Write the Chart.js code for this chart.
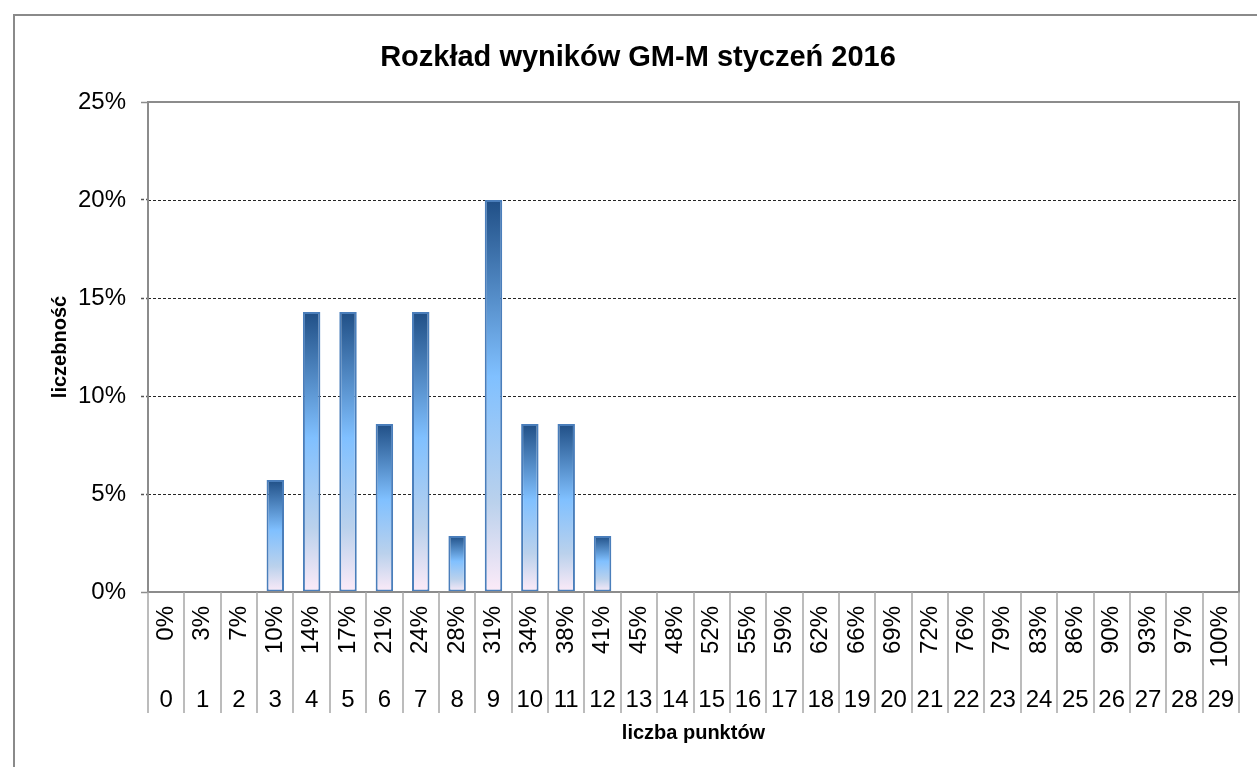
<!DOCTYPE html>
<html lang="pl">
<head>
<meta charset="utf-8">
<title>Rozkład wyników GM-M styczeń 2016</title>
<script src="https://cdn.jsdelivr.net/npm/chart.js@4.4.1/dist/chart.umd.min.js"></script>
<style>
    html, body { margin: 0; padding: 0; background: #ffffff; overflow: hidden; }
    canvas { display: block; }
</style>
</head>
<body>
<canvas id="wykres" width="1257" height="767"></canvas>
<script>
// Dane wykresu
const punkty = ['0', '1', '2', '3', '4', '5', '6', '7', '8', '9', '10', '11', '12', '13', '14',
    '15', '16', '17', '18', '19', '20', '21', '22', '23', '24', '25', '26', '27', '28', '29'];
const procentWyniku = ['0%', '3%', '7%', '10%', '14%', '17%', '21%', '24%', '28%', '31%', '34%', '38%',
    '41%', '45%', '48%', '52%', '55%', '59%', '62%', '66%', '69%', '72%', '76%', '79%', '83%', '86%',
    '90%', '93%', '97%', '100%'];
// liczebność w procentach
const liczebnosc = [0, 0, 0, 5.71, 14.29, 14.29, 8.57, 14.29, 2.86, 20, 8.57, 8.57, 2.86, 0, 0,
    0, 0, 0, 0, 0, 0, 0, 0, 0, 0, 0, 0, 0, 0, 0];
const osYTicki = [0, 5, 10, 15, 20, 25];

const czcionka = '"Liberation Sans", Arial, sans-serif';

document.addEventListener('DOMContentLoaded', function () {
    // gradient slupka: ciemny u gory, jasny w srodku, prawie bialy na dole
    function gradientSlupka(context) {
        const chart = context.chart;
        if (!chart.chartArea) return '#80bfff';
        const y = chart.scales.y;
        const gora = y.getPixelForValue(context.raw || 0);
        const dol = y.getPixelForValue(0);
        if (dol - gora < 1) return '#80bfff';
        const g = chart.ctx.createLinearGradient(0, gora, 0, dol);
        g.addColorStop(0, '#204f86');
        g.addColorStop(0.45, '#80c0ff');
        g.addColorStop(0.77, '#bad1ec');
        g.addColorStop(1, '#fdebf8');
        return g;
    }

    // ramka wykresu, linie siatki, ramka obszaru kreślenia i pionowe kreski pod osią
    const ramki = {
        id: 'ramki',
        beforeDraw(chart) {
            const ctx = chart.ctx;
            ctx.save();
            ctx.fillStyle = '#ffffff';
            ctx.fillRect(0, 0, chart.width, chart.height);
            ctx.strokeStyle = '#8a8a8a';
            ctx.lineWidth = 2;
            ctx.strokeRect(14, 15, chart.width + 40, chart.height + 40);
            ctx.restore();
        },
        beforeDatasetsDraw(chart) {
            const ctx = chart.ctx;
            const a = chart.chartArea;
            const y = chart.scales.y;
            ctx.save();
            ctx.strokeStyle = '#262626';
            ctx.lineWidth = 1;
            ctx.setLineDash([3, 2]);
            osYTicki.forEach(function (v) {
                if (v === 0 || v === 25) return;
                const py = Math.round(y.getPixelForValue(v)) + 0.5;
                ctx.beginPath();
                ctx.moveTo(a.left, py);
                ctx.lineTo(a.right, py);
                ctx.stroke();
            });
            ctx.restore();
        },
        afterDraw(chart) {
            const ctx = chart.ctx;
            const a = chart.chartArea;
            const x = chart.scales.x;
            ctx.save();
            ctx.strokeStyle = '#8c8c8c';
            ctx.lineWidth = 2;
            ctx.strokeRect(a.left, a.top, a.right - a.left, a.bottom - a.top);

            const pol = (x.getPixelForValue(1) - x.getPixelForValue(0)) / 2;
            ctx.strokeStyle = '#a6a6a6';
            ctx.lineWidth = 1.5;
            for (let i = 0; i <= punkty.length; i++) {
                const px = i < punkty.length ? x.getPixelForValue(i) - pol : x.getPixelForValue(i - 1) + pol;
                ctx.beginPath();
                ctx.moveTo(Math.round(px), a.bottom);
                ctx.lineTo(Math.round(px), a.bottom + 121);
                ctx.stroke();
            }
            ctx.restore();
        }
    };

    const data = {
        labels: procentWyniku,
        datasets: [{
            data: liczebnosc,
            backgroundColor: gradientSlupka,
            borderColor: '#4a7ebb',
            borderWidth: 2,
            borderSkipped: false,
            categoryPercentage: 1,
            barPercentage: 0.48
        }]
    };

    const config = {
        type: 'bar',
        data: data,
        plugins: [ramki],
        options: {
            responsive: false,
            animation: false,
            layout: { padding: { left: 37, right: 18, top: 0, bottom: 0 } },
            plugins: {
                legend: { display: false },
                tooltip: { enabled: false },
                title: {
                    display: true,
                    text: 'Rozkład wyników GM-M styczeń 2016',
                    color: '#000000',
                    font: { family: czcionka, size: 29, weight: 'bold' },
                    padding: { top: 41, bottom: 26.2 }
                }
            },
            scales: {
                y: {
                    min: 0,
                    max: 25,
                    afterFit: function (scale) { scale.width = 111; },
                    afterBuildTicks: function (scale) {
                        scale.ticks = osYTicki.map(v => ({ value: v }));
                    },
                    border: { display: false },
                    grid: {
                        drawOnChartArea: false,
                        tickLength: 7,
                        tickColor: c => (c.tick && (c.tick.value === 0 || c.tick.value === 25)) ? '#8c8c8c' : '#555555',
                        tickBorderDash: c => (c.tick && (c.tick.value === 0 || c.tick.value === 25)) ? [] : [3, 2],
                        tickWidth: 1.5
                    },
                    ticks: {
                        color: '#000000',
                        font: { family: czcionka, size: 24 },
                        padding: 15,
                        callback: v => v + '%'
                    },
                    title: {
                        display: true,
                        text: 'liczebność',
                        color: '#000000',
                        font: { family: czcionka, size: 20, weight: 'bold' },
                        padding: { top: 11, bottom: 0 }
                    }
                },
                x: {
                    offset: true,
                    weight: 0,
                    afterFit: function (scale) {
                        scale.height = 88;
                        scale.paddingLeft = 0;
                        scale.paddingRight = 0;
                    },
                    border: { display: false },
                    grid: { display: false, drawTicks: false },
                    ticks: {
                        color: '#000000',
                        font: { family: czcionka, size: 24 },
                        autoSkip: false,
                        minRotation: 90,
                        maxRotation: 90,
                        padding: 14
                    }
                },
                x2: {
                    type: 'category',
                    position: 'bottom',
                    labels: punkty,
                    offset: true,
                    weight: 1,
                    afterFit: function (scale) {
                        scale.height = 87;
                        scale.paddingLeft = 0;
                        scale.paddingRight = 0;
                    },
                    border: { display: false },
                    grid: { display: false, drawTicks: false },
                    ticks: {
                        color: '#000000',
                        font: { family: czcionka, size: 24 },
                        autoSkip: false,
                        minRotation: 0,
                        maxRotation: 0,
                        padding: 6
                    },
                    title: {
                        display: true,
                        text: 'liczba punktów',
                        color: '#000000',
                        font: { family: czcionka, size: 20, weight: 'bold' },
                        padding: { top: 0, bottom: 22 }
                    }
                }
            }
        }
    };

    // Rysowanie wykresu
    const ctx = document.getElementById('wykres').getContext('2d');
    new Chart(ctx, config);
});
</script>
</body>
</html>
